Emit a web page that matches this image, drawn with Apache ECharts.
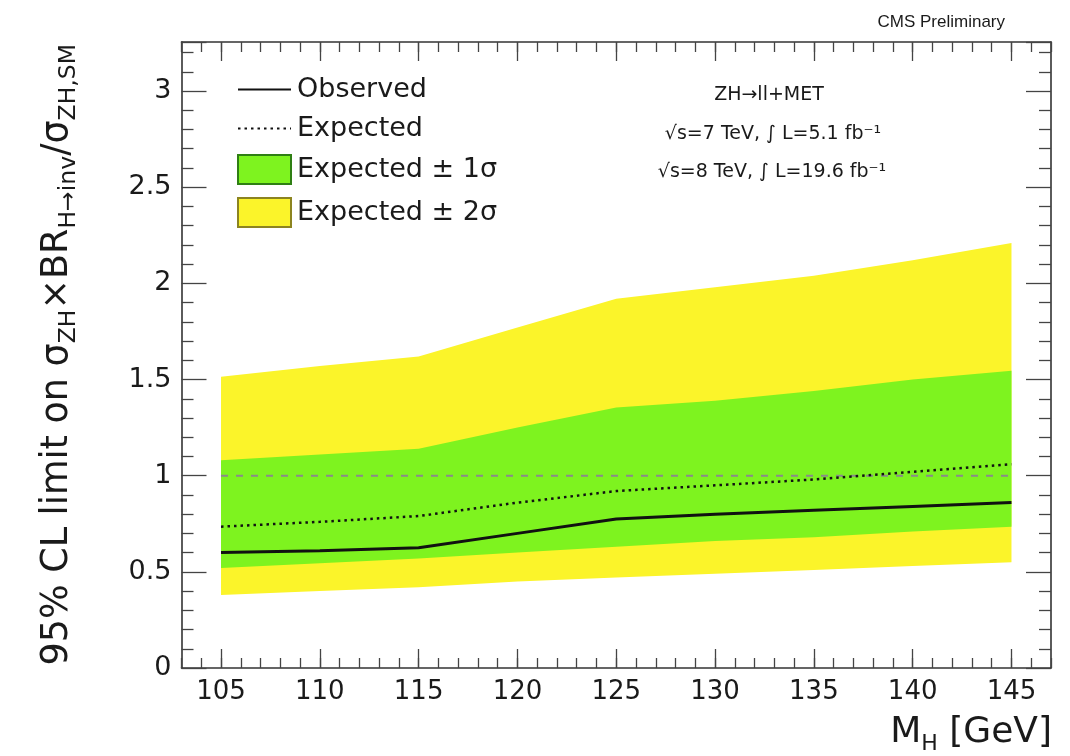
<!DOCTYPE html>
<html><head><meta charset="utf-8">
<script src="https://cdn.jsdelivr.net/npm/echarts@6/dist/echarts.min.js"></script>
<style>html,body{margin:0;padding:0;background:#fff}#c{width:1070px;height:756px}</style>
</head><body><div id="c"></div>
<script>
// ---- data ----
const masses   = [105, 110, 115, 120, 125, 130, 135, 140, 145];
const observed = [0.60, 0.61, 0.625, 0.70, 0.775, 0.80, 0.82, 0.84, 0.86];
const expected = [0.735, 0.76, 0.79, 0.86, 0.92, 0.95, 0.98, 1.02, 1.06];
const minus1   = [0.52, 0.545, 0.57, 0.60, 0.63, 0.66, 0.68, 0.71, 0.735];
const plus1    = [1.08, 1.11, 1.14, 1.25, 1.355, 1.39, 1.44, 1.50, 1.545];
const minus2   = [0.38, 0.40, 0.42, 0.45, 0.47, 0.49, 0.51, 0.53, 0.55];
const plus2    = [1.515, 1.57, 1.62, 1.77, 1.92, 1.98, 2.04, 2.12, 2.21];
const smMass   = [105, 145];
const smValue  = [1, 1];
const xTickLabels = [105, 110, 115, 120, 125, 130, 135, 140, 145];

const FONT = 'DejaVu Sans';
const YELLOW = '#fbf42a';
const GREEN = '#7ef31f';
const TXT = '#1a1a1a';
const pairs = (xs, ys) => xs.map((x, i) => [x, ys[i]]);

const chart = echarts.init(document.getElementById('c'), null, {renderer: 'canvas'});

const XMIN = 103, XMAX = 147, YMIN = 0, YMAX = 3.255;
const frameLine = {color: '#333', width: 1.6};
const tickCol = '#444';

function xAxisDef(pos, major, labels) {
  const a = {
    type: 'value', position: pos, min: XMIN, max: XMAX, gridIndex: 0,
    splitLine: {show: false},
    axisLine: {show: !major, onZero: false, lineStyle: frameLine},
    axisLabel: {show: false}
  };
  if (major) {
    a.axisTick = {show: true, inside: true, length: 19, customValues: xTickLabels, lineStyle: {color: tickCol, width: 1.3}};
  } else {
    a.interval = 1;
    a.axisTick = {show: true, inside: true, length: 10, lineStyle: {color: tickCol, width: 1.3}};
  }
  if (labels) {
    a.axisLabel = {show: true, customValues: xTickLabels, margin: 11, fontFamily: FONT, fontSize: 26, color: TXT};
  }
  return a;
}
function yAxisDef(pos, labels) {
  return {
    type: 'value', position: pos, min: YMIN, max: YMAX, interval: 0.5, gridIndex: 0,
    splitLine: {show: false},
    axisLine: {show: true, onZero: false, lineStyle: frameLine},
    axisTick: {show: true, inside: true, length: 25, lineStyle: {color: tickCol, width: 1.3}},
    minorTick: {show: true, splitNumber: 5, length: 12, lineStyle: {color: tickCol, width: 1.3}},
    axisLabel: {show: labels, showMaxLabel: false, margin: 10, fontFamily: FONT, fontSize: 27, color: TXT}
  };
}

function bandSeries(name, upper, lower, color, z) {
  return {
    name: name, type: 'custom', xAxisIndex: 0, yAxisIndex: 0, z: z, silent: true, clip: true,
    itemStyle: {color: color},
    data: [[masses[0], upper[0]]],
    renderItem: function (params, api) {
      const pts = [];
      for (let i = 0; i < masses.length; i++) pts.push(api.coord([masses[i], upper[i]]));
      for (let i = masses.length - 1; i >= 0; i--) pts.push(api.coord([masses[i], lower[i]]));
      return {type: 'polygon', shape: {points: pts}, style: {fill: color, stroke: null}};
    }
  };
}

const option = {
  animation: false,
  backgroundColor: '#fff',
  grid: {left: 181.5, right: 19, top: 42, bottom: 88, containLabel: false},
  xAxis: [xAxisDef('bottom', false, true), xAxisDef('bottom', true, false), xAxisDef('top', false, false), xAxisDef('top', true, false)],
  yAxis: [yAxisDef('left', true), yAxisDef('right', false)],
  legend: {
    orient: 'vertical', left: 232, top: 71, itemWidth: 53, itemHeight: 29, itemGap: 12,
    selectedMode: false,
    textStyle: {fontFamily: FONT, fontSize: 27, color: TXT, padding: [0, 0, 0, 1]},
    data: [
      {name: 'Observed', itemStyle: {opacity: 0}},
      {name: 'Expected', itemStyle: {opacity: 0}},
      {name: 'Expected ± 1σ', icon: 'rect', itemStyle: {color: GREEN, borderColor: '#2f7f14', borderWidth: 2, opacity: 1}},
      {name: 'Expected ± 2σ', icon: 'rect', itemStyle: {color: YELLOW, borderColor: '#8c8420', borderWidth: 2, opacity: 1}}
    ]
  },
  series: [
    bandSeries('Expected ± 2σ', plus2, minus2, YELLOW, 1),
    bandSeries('Expected ± 1σ', plus1, minus1, GREEN, 2),
    {name: 'SM', type: 'line', data: pairs(smMass, smValue), symbol: 'none', silent: true, z: 3,
     lineStyle: {color: '#8a8a8a', width: 2, type: [7, 8]}},
    {name: 'Expected', type: 'line', data: pairs(masses, expected), symbol: 'none', silent: true, z: 4,
     itemStyle: {color: '#111'}, lineStyle: {color: '#111', width: 2.5, type: [2.5, 4]}},
    {name: 'Observed', type: 'line', data: pairs(masses, observed), symbol: 'none', silent: true, z: 5,
     itemStyle: {color: '#111'}, lineStyle: {color: '#111', width: 3}}
  ],
  graphic: [
    {type: 'text', x: 1005, y: 22, style: {text: 'CMS Preliminary', fontFamily: 'Liberation Sans', fontSize: 17, fill: TXT, align: 'right', verticalAlign: 'middle'}},
    {type: 'text', x: 769, y: 95, style: {text: 'ZH→ll+MET', fontFamily: FONT, fontSize: 19, fill: TXT, align: 'center', verticalAlign: 'middle'}},
    {type: 'text', x: 773, y: 134, style: {text: '√s=7 TeV, ∫ L=5.1 fb⁻¹', fontFamily: FONT, fontSize: 19, fill: TXT, align: 'center', verticalAlign: 'middle'}},
    {type: 'text', x: 772, y: 172, style: {text: '√s=8 TeV, ∫ L=19.6 fb⁻¹', fontFamily: FONT, fontSize: 19, fill: TXT, align: 'center', verticalAlign: 'middle'}},
    {type: 'text', x: 1052, y: 733, style: {
      text: '{a|M}{s|H}{a| [GeV]}', align: 'right', verticalAlign: 'middle',
      rich: {a: {fontFamily: FONT, fontSize: 36, lineHeight: 44, fill: TXT, color: TXT},
             s: {fontFamily: FONT, fontSize: 22, lineHeight: 22, verticalAlign: 'bottom', fill: TXT, color: TXT}}}},
    {type: 'text', x: 58, y: 44, rotation: Math.PI / 2, style: {
      text: '{a|95% CL limit on σ}{s|ZH}{a|×BR}{s|H→inv}{a|/σ}{s|ZH,SM}', align: 'right', verticalAlign: 'middle',
      rich: {a: {fontFamily: FONT, fontSize: 36.5, lineHeight: 46, fill: TXT, color: TXT},
             s: {fontFamily: FONT, fontSize: 23.5, lineHeight: 23, verticalAlign: 'bottom', fill: TXT, color: TXT}}}}
  ]
};
chart.setOption(option);
</script></body></html>
